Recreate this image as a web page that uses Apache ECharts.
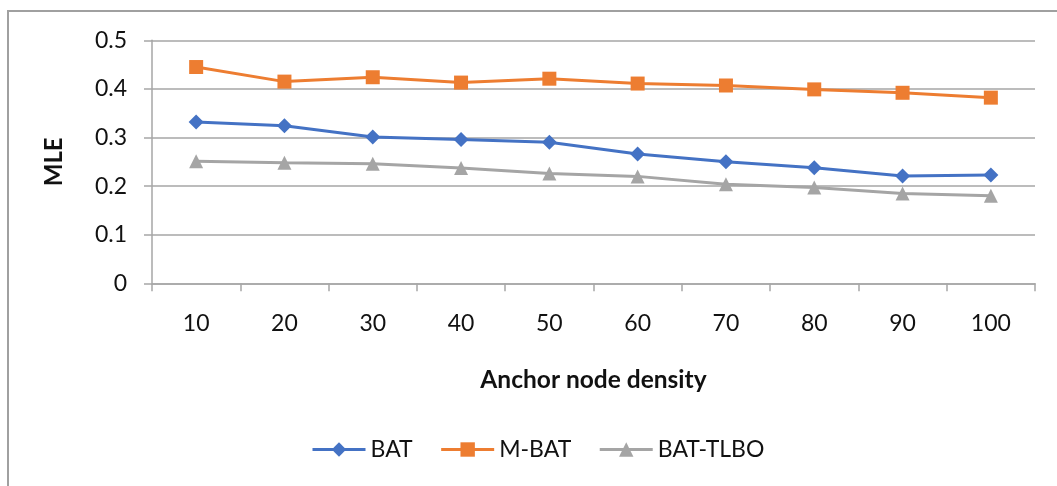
<!DOCTYPE html>
<html>
<head>
<meta charset="utf-8">
<script src="https://cdn.jsdelivr.net/npm/echarts@6/dist/echarts.min.js"></script>
<style>
  html, body { margin: 0; padding: 0; background: #fff; }
  #chart { width: 1057px; height: 486px; }
</style>
</head>
<body>
<div id="chart"></div>
<script>
// Anchor node density on the x axis
const categories = ['10', '20', '30', '40', '50', '60', '70', '80', '90', '100'];

// MLE per algorithm
const batValues = [0.332, 0.324, 0.301, 0.296, 0.290, 0.266, 0.250, 0.238, 0.221, 0.223];
const mBatValues = [0.445, 0.415, 0.424, 0.413, 0.421, 0.411, 0.407, 0.399, 0.392, 0.382];
const batTlboValues = [0.251, 0.248, 0.246, 0.237, 0.226, 0.220, 0.204, 0.197, 0.185, 0.180];

const seriesNames = ['BAT', 'M-BAT', 'BAT-TLBO'];
const yTicks = [0, 0.1, 0.2, 0.3, 0.4, 0.5];

const FONT = 'Lato, "Liberation Sans", sans-serif';
const AXIS_GRAY = '#a6a6a6';

const chart = echarts.init(document.getElementById('chart'));

function lineSeries(name, data, color, symbol, size) {
  return {
    name: name,
    type: 'line',
    data: data,
    symbol: symbol,
    symbolSize: size,
    showAllSymbol: true,
    lineStyle: { color: color, width: 3 },
    itemStyle: { color: color },
    emphasis: { disabled: true },
    animation: false
  };
}

chart.setOption({
  animation: false,
  graphic: [{
    type: 'rect',
    shape: { x: 8, y: 11, width: 1200, height: 600 },
    style: { fill: 'none', stroke: '#a0a0a0', lineWidth: 2 },
    silent: true,
    z: -1
  }],
  grid: { left: 152, right: 22, top: 40.3, bottom: 202.7, containLabel: false },
  legend: {
    data: seriesNames,
    left: 306,
    top: 433,
    itemWidth: 53,
    itemHeight: 18,
    itemGap: 27,
    lineStyle: { width: 3 },
    textStyle: { fontFamily: FONT, fontSize: 23, color: '#111' }
  },
  xAxis: {
    type: 'category',
    data: categories,
    boundaryGap: true,
    name: 'Anchor node density',
    nameLocation: 'middle',
    nameGap: 84,
    nameTextStyle: { fontFamily: FONT, fontSize: 24.5, fontWeight: 'bold', color: '#111' },
    axisLine: { lineStyle: { color: AXIS_GRAY, width: 1.5 } },
    axisTick: { show: true, length: 8, alignWithLabel: false, lineStyle: { color: AXIS_GRAY, width: 1.5 } },
    axisLabel: { margin: 29, fontFamily: FONT, fontSize: 23, color: '#111' },
    splitLine: { show: false }
  },
  yAxis: {
    type: 'value',
    min: yTicks[0],
    max: yTicks[yTicks.length - 1],
    interval: 0.1,
    name: 'MLE',
    nameLocation: 'middle',
    nameRotate: 90,
    nameGap: 86,
    nameTextStyle: { fontFamily: FONT, fontSize: 24, fontWeight: 'bold', color: '#111' },
    axisLine: { show: true, lineStyle: { color: AXIS_GRAY, width: 1.5 } },
    axisTick: { show: true, length: 8, lineStyle: { color: AXIS_GRAY, width: 1.5 } },
    axisLabel: {
      margin: 25,
      fontFamily: FONT,
      fontSize: 23,
      color: '#111',
      formatter: v => String(Math.round(v * 10) / 10)
    },
    splitLine: { show: true, lineStyle: { color: AXIS_GRAY, width: 1.5 } }
  },
  series: [
    lineSeries(seriesNames[0], batValues, '#4472c4', 'diamond', 15),
    lineSeries(seriesNames[1], mBatValues, '#ed7d31', 'rect', 14),
    lineSeries(seriesNames[2], batTlboValues, '#a5a5a5', 'triangle', 14)
  ]
});
</script>
</body>
</html>
